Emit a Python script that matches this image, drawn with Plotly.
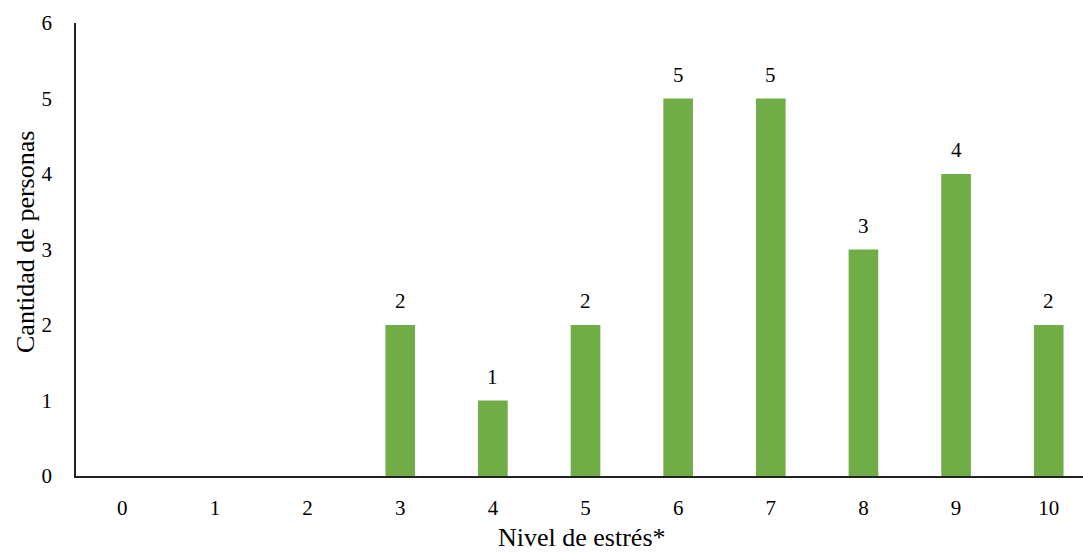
import plotly.graph_objects as go

niveles = [0, 1, 2, 3, 4, 5, 6, 7, 8, 9, 10]
cantidad = [0, 0, 0, 2, 1, 2, 5, 5, 3, 4, 2]
etiquetas = ["", "", "", "2", "1", "2", "5", "5", "3", "4", "2"]

FONT = "Liberation Serif, Times New Roman, serif"
L, T, B = 76, 23, 76
W, H = 1083, 552
PW, PH = W - L, H - T - B

fig = go.Figure(go.Bar(
    x=niveles, y=cantidad, width=0.32,
    marker=dict(color="#70AD47", line=dict(width=0)),
    hoverinfo="x+y",
))

annotations = []
for n, c, lab in zip(niveles, cantidad, etiquetas):
    if lab:
        annotations.append(dict(
            x=n, y=c, xref="x", yref="y", text=lab, showarrow=False,
            yanchor="bottom", yshift=10,
            font=dict(family=FONT, size=21, color="#000000"),
        ))

annotations.append(dict(
    x=(25 - L) / PW, y=(H - B - 242) / PH, xref="paper", yref="paper",
    text="Cantidad de personas", textangle=-90, showarrow=False,
    xanchor="center", yanchor="middle",
    font=dict(family=FONT, size=26, color="#000000"),
))
annotations.append(dict(
    x=(582 - L) / PW, y=(H - B - 537) / PH, xref="paper", yref="paper",
    text="Nivel de estrés*", showarrow=False,
    xanchor="center", yanchor="middle",
    font=dict(family=FONT, size=26, color="#000000"),
))

fig.update_layout(
    width=W, height=H,
    margin=dict(l=L, r=0, t=T, b=B, autoexpand=False),
    plot_bgcolor="white", paper_bgcolor="white",
    showlegend=False,
    font=dict(family=FONT, size=21, color="#000000"),
    annotations=annotations,
    xaxis=dict(
        range=[-0.5, 10.37], tickmode="array", tickvals=niveles,
        ticktext=[str(n) for n in niveles],
        showline=True, linecolor="#222222", linewidth=1.5,
        showgrid=False, zeroline=False, ticks="", ticklen=0,
        automargin=False, ticklabelstandoff=12,
        tickfont=dict(family=FONT, size=21),
    ),
    yaxis=dict(
        range=[0, 6], tickvals=[0, 1, 2, 3, 4, 5, 6],
        showline=True, linecolor="#222222", linewidth=1.5,
        showgrid=False, zeroline=False, ticks="", ticklen=0,
        automargin=False, ticklabelstandoff=18,
        tickfont=dict(family=FONT, size=21),
    ),
)

fig.write_html("out.html", config={"displayModeBar": False},
               post_script="document.body.style.margin='0';")
